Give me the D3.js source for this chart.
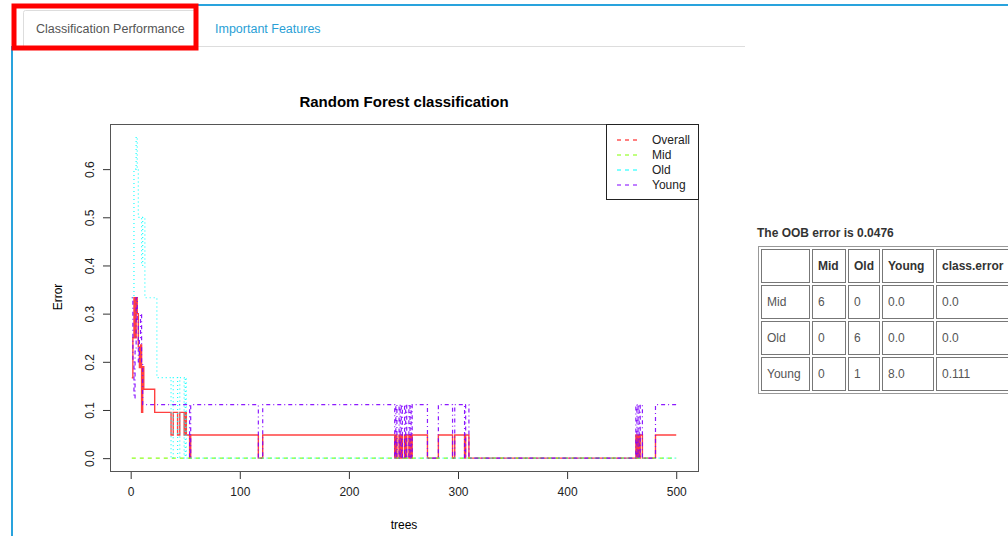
<!DOCTYPE html>
<html>
<head>
<meta charset="utf-8">
<script src="https://cdn.jsdelivr.net/npm/d3@7"></script>
<style>
  body { margin: 0; background: #fff; font-family: "Liberation Sans", Arial, sans-serif; }
  #page { position: relative; width: 1008px; height: 536px; overflow: hidden; }
  svg { position: absolute; left: 0; top: 0; }
  #oob { position: absolute; left: 757px; top: 226px; font-size: 12px; font-weight: bold; color: #333; }
  table.cm { position: absolute; left: 758px; top: 246px; border-collapse: separate; border-spacing: 2px;
    border: 1px solid #999; font-size: 12px; color: #555; table-layout: fixed; width: 263px; }
  table.cm td, table.cm th { border: 1px solid #777; height: 32px; padding: 0 5px; text-align: left; white-space: nowrap; }
  table.cm th { color: #333; font-weight: bold; }
</style>
</head>
<body>
<div id="page"></div>
<script>
// error rates, as [tree, value] change points (value holds until the next point)
var nTrees = 500;
var overall = [[1,0.167],[2,0.25],[3,0.333],[4,0.25],[5,0.333],[6,0.3],[7,0.231],[8,0.188],[9,0.235],
  [10,0.095],[11,0.19],[12,0.143],[22,0.095],[37,0.048],[39,0.095],[43,0.048],[45,0.095],[49,0.048],
  [50,0.095],[51,0.048],[54,0],[55,0.048],[117,0],[121,0.048],
  [242,0],[243,0.048],[244,0],[246,0.048],[247,0],[248,0.048],[249,0],[251,0.048],[252,0],[253,0.048],
  [255,0],[256,0.048],[257,0],[258,0.048],[272,0],[282,0.048],[295,0],[297,0.048],[306,0],[307,0.048],
  [310,0],[463,0.048],[464,0],[465,0.048],[466,0],[467,0.048],[469,0],[481,0.048]];
var mid = [[1,0]];
var old = [[1,0.333],[3,0.6],[5,0.667],[6,0.6],[7,0.5],[10,0.4],[11,0.5],[13,0.333],[24,0.167],
  [37,0],[39,0.167],[43,0],[45,0.167],[49,0],[50,0.167],[51,0]];
var young = [[1,0.333],[2,0.2],[3,0.125],[4,0.222],[5,0.333],[6,0.286],[7,0.2],[8,0.25],[9,0.3],
  [10,0.2],[11,0.111],[54,0],[55,0.111],[117,0],[121,0.111],
  [242,0],[243,0.111],[244,0],[246,0.111],[247,0],[248,0.111],[249,0],[251,0.111],[252,0],[253,0.111],
  [255,0],[256,0.111],[257,0],[258,0.111],[272,0],[282,0.111],[295,0],[297,0.111],[306,0],[307,0.111],
  [310,0],[463,0.111],[464,0],[465,0.111],[466,0],[467,0.111],[469,0],[481,0.111]];

var seriesNames = ['Overall', 'Mid', 'Old', 'Young'];
var seriesColors = ['#ff0000', '#80ff00', '#00ffff', '#8000ff'];
var seriesDash = [null, '4,4', '1,3', '1,3,4,3'];
var xTicks = [0, 100, 200, 300, 400, 500];
var yTicks = [0, 0.1, 0.2, 0.3, 0.4, 0.5, 0.6];

// confusion matrix
var cmColumns = ['', 'Mid', 'Old', 'Young', 'class.error'];
var cmRows = ['Mid', 'Old', 'Young'];
var cmValues = [['6', '0', '0.0', '0.0'], ['0', '6', '0.0', '0.0'], ['0', '1', '8.0', '0.111']];
var oobError = '0.0476';

var W = 1008, H = 536;
var box = {left: 110, right: 698, top: 124, bottom: 471};

var page = d3.select('#page');
var svg = page.append('svg').attr('width', W).attr('height', H);

// --- page chrome (tabs) ---
svg.append('line').attr('x1', 198).attr('x2', W).attr('y1', 5).attr('y2', 5)
  .attr('stroke', '#29a3dd').attr('stroke-width', 2);
svg.append('line').attr('x1', 12).attr('x2', 12).attr('y1', 46).attr('y2', H)
  .attr('stroke', '#29a3dd').attr('stroke-width', 2);
svg.append('line').attr('x1', 198).attr('x2', 745).attr('y1', 46.5).attr('y2', 46.5)
  .attr('stroke', '#ddd');
svg.append('path').attr('d', 'M23.5,46 V12.5 Q23.5,10.5 25.5,10.5 H195 V46')
  .attr('fill', 'none').attr('stroke', '#ddd');
svg.append('text').attr('x', 36).attr('y', 33).attr('font-size', 12.5).attr('fill', '#555')
  .text('Classification Performance');
svg.append('text').attr('x', 215).attr('y', 33).attr('font-size', 12.5).attr('fill', '#2a9fd6')
  .text('Important Features');
svg.append('rect').attr('x', 14).attr('y', 6).attr('width', 182).attr('height', 42)
  .attr('fill', 'none').attr('stroke', '#ff0000').attr('stroke-width', 5);

// --- plot ---
// R pads each axis range by 4%
var x = d3.scaleLinear().domain([1 - 0.04 * 499, 500 + 0.04 * 499]).range([box.left, box.right]);
var y = d3.scaleLinear().domain([-0.04 * 0.667, 0.667 + 0.04 * 0.667]).range([box.bottom, box.top]);

svg.append('text').attr('x', 404).attr('y', 107).attr('text-anchor', 'middle')
  .attr('font-size', 15).attr('font-weight', 'bold').attr('fill', '#000')
  .text('Random Forest classification');

var xAxis = svg.append('g').attr('transform', 'translate(0,' + box.bottom + ')')
  .call(d3.axisBottom(x).tickValues(xTicks).tickSize(8).tickPadding(8).tickFormat(d3.format('d')));
var yAxis = svg.append('g').attr('transform', 'translate(' + box.left + ',0)')
  .call(d3.axisLeft(y).tickValues(yTicks).tickSize(7).tickFormat(d3.format('.1f')));
[xAxis, yAxis].forEach(function (a) {
  a.select('.domain').remove();
  a.selectAll('line').attr('stroke', '#333');
  a.selectAll('text').attr('font-size', 12).attr('fill', '#222')
    .attr('font-family', '"Liberation Sans", Arial, sans-serif');
});
xAxis.selectAll('text').attr('dy', '0.71em');
// tick groups are already moved to y(d); only shift left and turn
yAxis.selectAll('text').attr('transform', 'translate(' + (90 - box.left) + ',0) rotate(-90)')
  .attr('x', 0).attr('y', 0).attr('dy', '0.35em').attr('text-anchor', 'middle');

svg.append('text').attr('x', 404).attr('y', 529).attr('text-anchor', 'middle')
  .attr('font-size', 12).text('trees');
svg.append('text').attr('transform', 'translate(62,297) rotate(-90)').attr('text-anchor', 'middle')
  .attr('font-size', 12).text('Error');

svg.append('clipPath').attr('id', 'plotclip').append('rect')
  .attr('x', box.left).attr('y', box.top).attr('width', box.right - box.left).attr('height', box.bottom - box.top);

var line = d3.line().curve(d3.curveStepAfter)
  .x(function (d) { return x(d[0]); })
  .y(function (d) { return y(d[1]); });

var allSeries = [overall, mid, old, young];
var lines = svg.append('g').attr('clip-path', 'url(#plotclip)');
allSeries.forEach(function (s, i) {
  // hold the last value out to the final tree
  var pts = s.concat([[nTrees, s[s.length - 1][1]]]);
  lines.append('path').attr('d', line(pts))
    .attr('fill', 'none')
    .attr('stroke', seriesColors[i])
    .attr('stroke-width', i === 0 ? 1.4 : 1.2)
    .attr('stroke-opacity', i === 0 ? 0.75 : 0.9)
    .attr('stroke-dasharray', seriesDash[i]);
});

svg.append('rect').attr('x', box.left + 0.5).attr('y', box.top + 0.5)
  .attr('width', box.right - box.left).attr('height', box.bottom - box.top)
  .attr('fill', 'none').attr('stroke', '#555');

// legend in the top-right corner
var legend = svg.append('g').attr('transform', 'translate(606,124)');
legend.append('rect').attr('x', 0.5).attr('y', 0.5).attr('width', 92).attr('height', 75)
  .attr('fill', '#fff').attr('stroke', '#222');
seriesNames.forEach(function (name, i) {
  var ly = 16 + i * 15;
  legend.append('line').attr('x1', 11).attr('x2', 35).attr('y1', ly).attr('y2', ly)
    .attr('stroke', seriesColors[i]).attr('stroke-dasharray', '4,4');
  legend.append('text').attr('x', 46).attr('y', ly).attr('dy', '0.35em')
    .attr('font-size', 12).attr('fill', '#222').text(name);
});

// --- OOB error and confusion matrix ---
page.append('div').attr('id', 'oob').text('The OOB error is ' + oobError);
var table = page.append('table').attr('class', 'cm');
var colWidths = [37, 22, 20, 40, 70];
table.append('tr').selectAll('th').data(cmColumns).enter().append('th')
  .style('width', function (d, i) { return colWidths[i] + 'px'; })
  .text(function (d) { return d; });
cmRows.forEach(function (r, i) {
  var tr = table.append('tr');
  tr.append('td').text(r);
  tr.selectAll('td.v').data(cmValues[i]).enter().append('td').attr('class', 'v')
    .text(function (d) { return d; });
});
</script>
</body>
</html>
